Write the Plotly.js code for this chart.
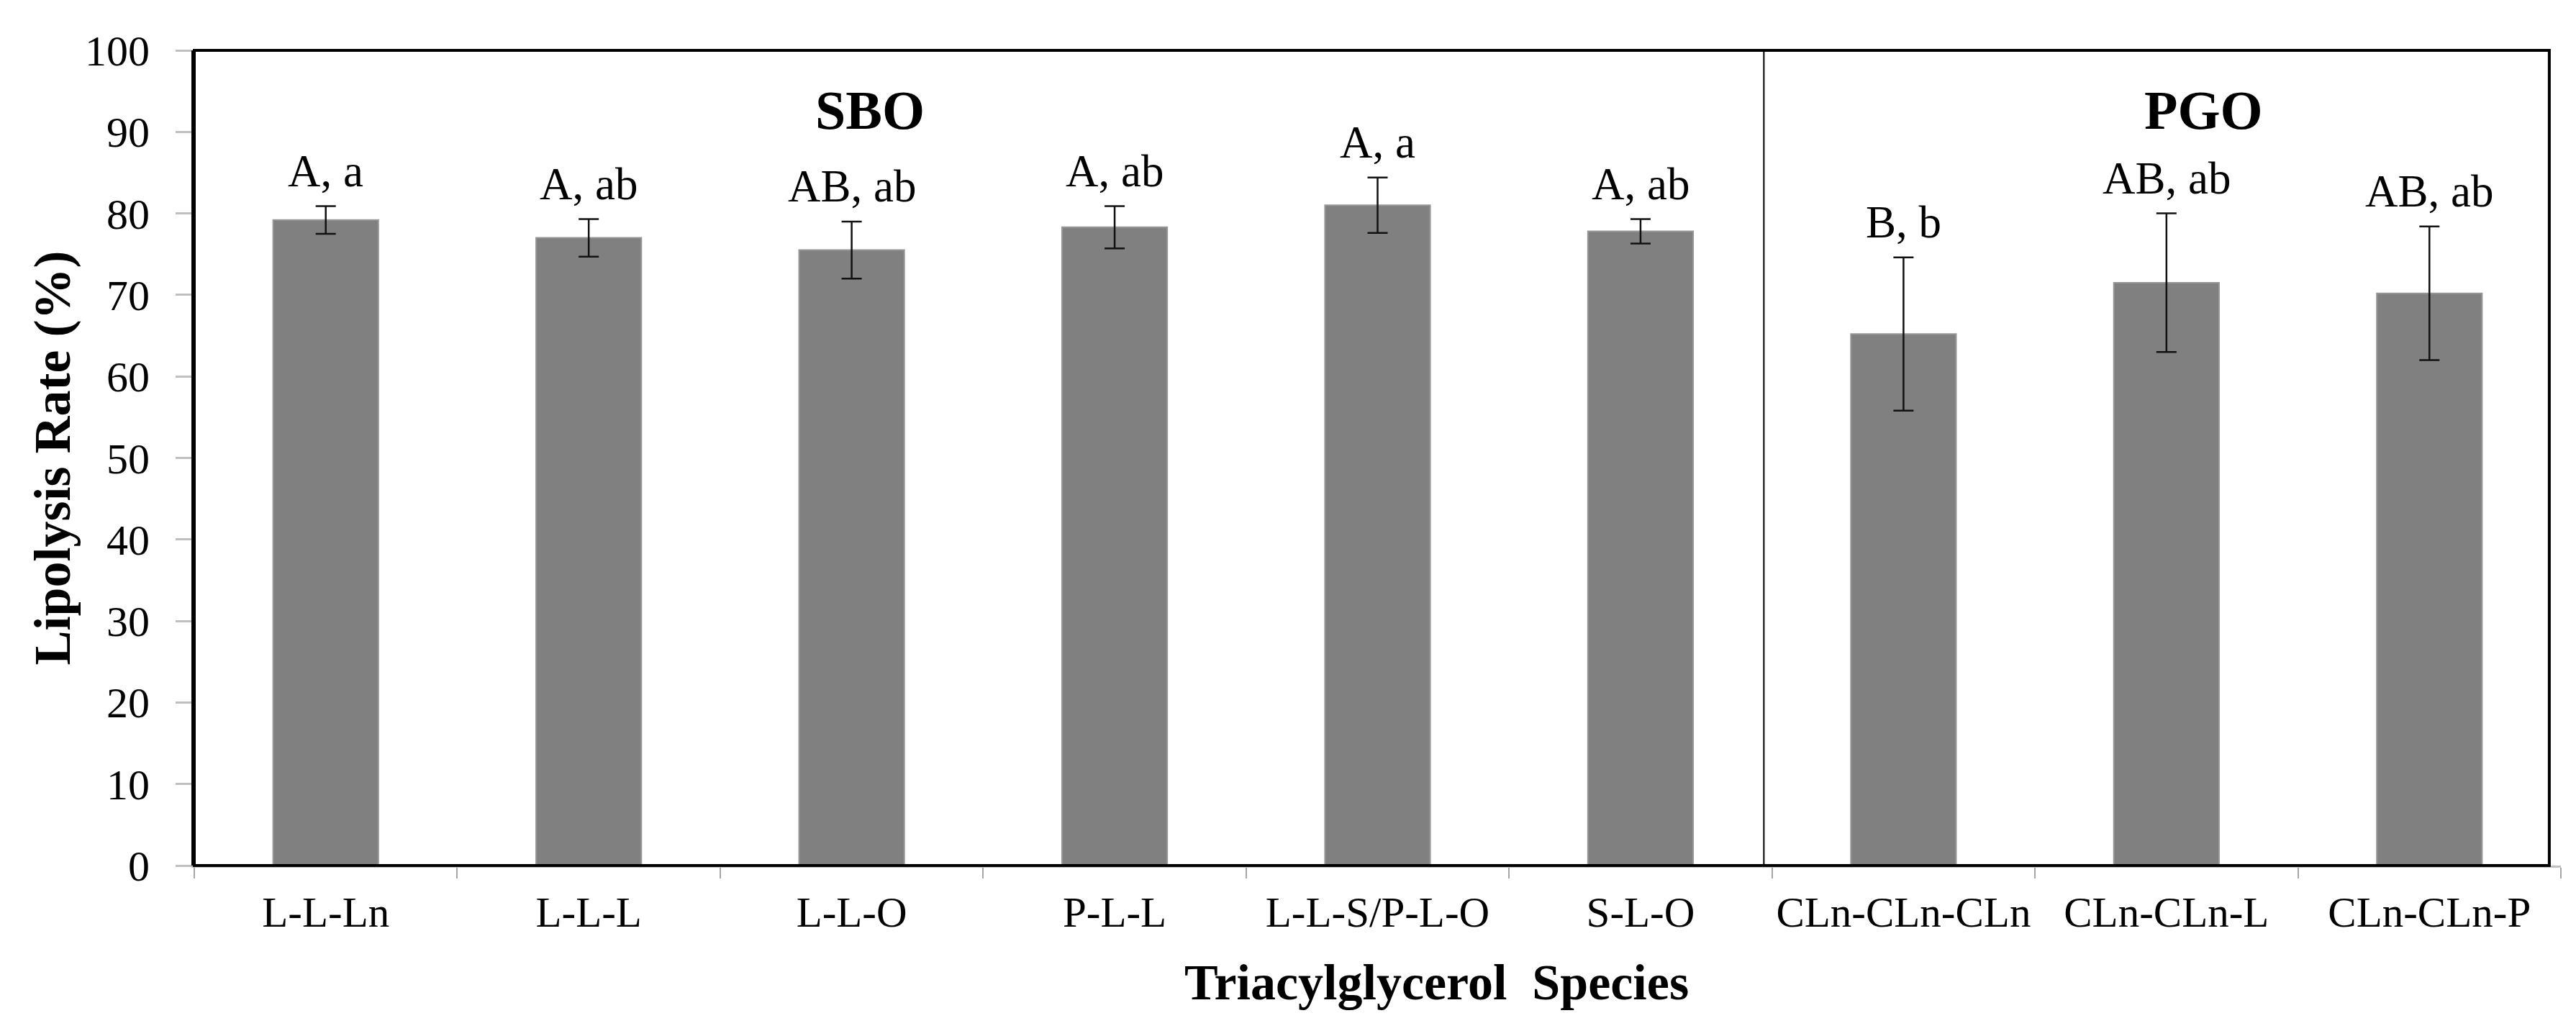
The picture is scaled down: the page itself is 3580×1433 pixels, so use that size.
<!DOCTYPE html>
<html>
<head>
<meta charset="utf-8">
<script src="https://cdn.plot.ly/plotly-3.0.1.min.js"></script>
<style>html,body{margin:0;padding:0;background:#fff;}#chart{width:3580px;height:1433px;}</style>
</head>
<body>
<div id="chart"></div>
<script>
// ---- data ----
const categories = ["L-L-Ln", "L-L-L", "L-L-O", "P-L-L", "L-L-S/P-L-O", "S-L-O",
                    "CLn-CLn-CLn", "CLn-CLn-L", "CLn-CLn-P"];
const lipolysisRate = [79.2, 77.0, 75.5, 78.3, 81.0, 77.8, 65.2, 71.5, 70.2];
const stdError = [1.7, 2.3, 3.5, 2.6, 3.4, 1.5, 9.4, 8.5, 8.2];
const significance = ["A, a", "A, ab", "AB, ab", "A, ab", "A, a", "A, ab", "B, b", "AB, ab", "AB, ab"];
const groupNames = ["SBO", "PGO"];
const yTickValues = [0, 10, 20, 30, 40, 50, 60, 70, 80, 90, 100];

// ---- styling / layout ----
const FONT = "Liberation Serif, Times New Roman, serif";
const labelGap = 1.05;            // gap (in % units) between error cap and letter label box
const groupLabelX = [2.07, 7.14]; // category-axis positions of group labels
const groupLabelY = 92.7;
const separatorX = 5.469;         // boundary line between SBO and PGO groups
const frameRight = 0.9951;        // paper x of the plot frame's right edge

const trace = {
  type: "bar",
  x: categories,
  y: lipolysisRate,
  marker: {color: "#808080", line: {color: "#969696", width: 2}},
  error_y: {type: "data", array: stdError, visible: true, color: "#111111", thickness: 2.5, width: 14},
  hoverinfo: "skip",
  showlegend: false
};

const annotations = [];
categories.forEach((c, i) => {
  annotations.push({
    x: i, xref: "x", y: lipolysisRate[i] + stdError[i] + labelGap, yref: "y",
    text: significance[i], showarrow: false, xanchor: "center", yanchor: "bottom",
    font: {family: FONT, size: 63, color: "#000"}
  });
});
groupNames.forEach((g, k) => {
  annotations.push({
    x: groupLabelX[k], xref: "x", y: groupLabelY, yref: "y",
    text: "<b>" + g + "</b>", showarrow: false, xanchor: "center", yanchor: "middle",
    font: {family: FONT, size: 76, color: "#000"}
  });
});
// axis titles as annotations (positions match the reference)
annotations.push({
  x: -0.0602, xref: "paper", y: 0.5, yref: "paper", textangle: -90,
  text: "<b>Lipolysis Rate (%)</b>", showarrow: false, xanchor: "center", yanchor: "middle",
  font: {family: FONT, size: 72, color: "#000"}
});
annotations.push({
  x: 0.525, xref: "paper", y: -0.1435, yref: "paper",
  text: "<b>Triacylglycerol\u00a0 Species</b>", showarrow: false, xanchor: "center", yanchor: "middle",
  font: {family: FONT, size: 70, color: "#000"}
});

const layout = {
  width: 3580, height: 1433,
  margin: {l: 270, r: 21, t: 70, b: 230, pad: 0},
  paper_bgcolor: "#ffffff", plot_bgcolor: "#ffffff",
  bargap: 0.6,
  font: {family: FONT, color: "#000"},
  xaxis: {
    type: "category", range: [-0.5, 8.5],
    showline: true, linecolor: "#c0c0c0", linewidth: 3,
    ticks: "outside", tickson: "boundaries", ticklen: 15, tickwidth: 2, tickcolor: "#a6a6a6",
    ticklabelstandoff: 11,
    tickfont: {family: FONT, size: 59, color: "#000"},
    showgrid: false, zeroline: false, fixedrange: true
  },
  yaxis: {
    range: [0, 100], tickvals: yTickValues,
    showline: true, linecolor: "#000", linewidth: 4,
    ticks: "outside", ticklen: 22, tickwidth: 3, tickcolor: "#c0c0c0",
    ticklabelstandoff: 24,
    tickfont: {family: FONT, size: 60, color: "#000"},
    showgrid: false, zeroline: false, fixedrange: true
  },
  shapes: [
    {type: "rect", xref: "paper", yref: "paper", x0: 0, x1: frameRight, y0: 0, y1: 1,
     line: {color: "#000", width: 4}, fillcolor: "rgba(0,0,0,0)", layer: "above"},
    {type: "line", xref: "x", yref: "paper", x0: separatorX, x1: separatorX, y0: 0, y1: 1,
     line: {color: "#000", width: 2}, layer: "above"}
  ],
  annotations: annotations
};

Plotly.newPlot("chart", [trace], layout, {staticPlot: true, displayModeBar: false});
</script>
</body>
</html>
